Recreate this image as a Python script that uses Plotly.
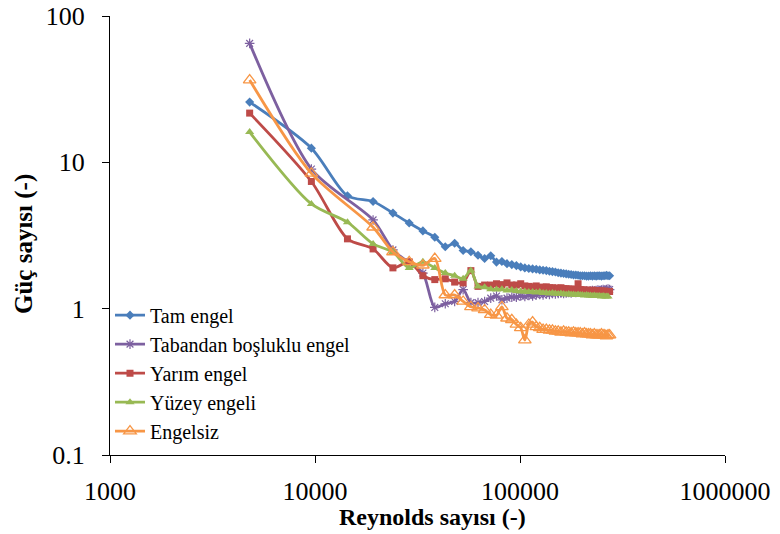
import plotly.graph_objects as go

RE = [4800, 9600, 14400, 19200, 24000, 28800, 33600, 38400, 43200, 48000,
      52800, 57600, 62400, 67200, 72000, 76800, 81600, 86400, 91200, 96000,
      100800, 105600, 110400, 115200, 120000, 124800, 129600, 134400, 139200, 144000,
      148800, 153600, 158400, 163200, 168000, 172800, 177600, 182400, 187200, 192000,
      196800, 201600, 206400, 211200, 216000, 220800, 225600, 230400, 235200, 240000,
      244800, 249600, 254400, 259200, 264000, 268800, 273600]

tam_engel = [25.8, 12.5, 5.9, 5.4, 4.5, 3.85, 3.4, 3.08, 2.65, 2.8,
             2.5, 2.45, 2.32, 2.2, 2.3, 2.08, 2.1, 2.03, 2.0, 1.97,
             1.93, 1.9, 1.88, 1.87, 1.86, 1.84, 1.83, 1.82, 1.8, 1.79,
             1.78, 1.76, 1.75, 1.74, 1.73, 1.72, 1.71, 1.7, 1.7, 1.69,
             1.68, 1.68, 1.68, 1.67, 1.67, 1.68, 1.67, 1.68, 1.67, 1.68,
             1.68, 1.67, 1.68, 1.68, 1.69, 1.68, 1.68]

tabandan = [65, 9.0, None, 4.04, 2.52, 2.06, 1.75, 1.02, 1.08, 1.12,
            1.35, 1.1, 1.1, 1.12, 1.18, 1.22, 1.15, 1.18, 1.2, 1.2,
            1.22, 1.21, 1.23, 1.22, 1.24, 1.25, 1.24, 1.26, 1.25, 1.27,
            1.26, 1.27, 1.28, 1.27, 1.28, 1.29, 1.28, 1.3, 1.29, 1.3,
            1.31, 1.3, 1.31, 1.32, 1.31, 1.32, 1.33, 1.32, 1.33, 1.34,
            1.33, 1.34, 1.35, 1.34, 1.35, 1.36, 1.35]

yarim_engel = [21.7, 7.4, 3.0, 2.56, 1.9, 2.09, 1.68, 1.58, 1.6, 1.52,
               1.5, 1.82, 1.42, 1.45, 1.45, 1.48, 1.46, 1.5, 1.45, 1.45,
               1.48, 1.43, 1.42, 1.41, 1.43, 1.4, 1.4, 1.41, 1.39, 1.39,
               1.38, 1.38, 1.39, 1.37, 1.37, 1.36, 1.36, 1.36, 1.35, 1.48,
               1.35, 1.34, 1.34, 1.34, 1.33, 1.33, 1.34, 1.32, 1.33, 1.32,
               1.32, 1.32, 1.31, 1.32, 1.31, 1.31, 1.31]

yuzey_engeli = [16.1, 5.2, 3.9, 2.77, 2.44, 1.9, 2.09, 1.9, 1.75, 1.68,
                1.6, 1.82, 1.42, 1.4, 1.36, 1.35, 1.36, 1.33, 1.34, 1.32,
                1.31, 1.31, 1.3, 1.3, 1.29, 1.3, 1.28, 1.28, 1.27, 1.28,
                1.27, 1.26, 1.27, 1.26, 1.25, 1.26, 1.25, 1.25, 1.24, 1.25,
                1.24, 1.24, 1.23, 1.24, 1.23, 1.23, 1.22, 1.23, 1.22, 1.22,
                1.22, 1.21, 1.22, 1.21, 1.21, 1.21, None]

engelsiz = [36.5, 8.4, None, 3.6, 2.44, 2.09, 1.98, 2.2, 1.24, 1.24,
            1.12, 1.03, 1.01, 0.98, 0.91, 0.9, 1.03, 0.86, 0.84, 0.78,
            0.74, 0.61, 0.78, 0.81, 0.75, 0.74, 0.72, 0.72, 0.71, 0.71,
            0.7, 0.7, 0.69, 0.7, 0.69, 0.69, 0.68, 0.69, 0.68, 0.68,
            0.68, 0.67, 0.68, 0.67, 0.67, 0.67, 0.66, 0.67, 0.66, 0.66,
            0.66, 0.67, 0.66, 0.66, 0.65, 0.66, 0.66]

series = [
    ("Tam engel", tam_engel, "#4A7EBB", dict(symbol="diamond", size=7)),
    ("Tabandan boşluklu engel", tabandan, "#7D60A0", dict(symbol="asterisk-open", size=8, line=dict(width=1.2, color="#7D60A0"))),
    ("Yarım engel", yarim_engel, "#BE4B48", dict(symbol="square", size=7)),
    ("Yüzey engeli", yuzey_engeli, "#98B954", dict(symbol="triangle-up", size=8)),
    ("Engelsiz", engelsiz, "#F79646", dict(symbol="triangle-up-open", size=11, line=dict(width=1.3, color="#F79646"))),
]

FONT = "Liberation Serif, Times New Roman, serif"

fig = go.Figure()
for i, (name, ys, color, mk) in enumerate(series):
    fig.add_trace(go.Scatter(
        x=RE, y=ys, name=name, mode="lines+markers",
        connectgaps=True,
        line=dict(color=color, width=2.8, shape="spline", smoothing=0.8),
        marker=dict(color=color, **mk),
        legendgroup=f"g{i}",
    ))

fig.update_layout(
    width=780, height=534,
    margin=dict(l=110, r=55, t=16, b=79),
    paper_bgcolor="white", plot_bgcolor="white",
    font=dict(family=FONT, size=24, color="black"),
    showlegend=True,
    legend=dict(x=0.0, y=0.363, xanchor="left", yanchor="top",
                font=dict(family=FONT, size=20, color="black"),
                bgcolor="rgba(0,0,0,0)", tracegroupgap=0,
                itemwidth=30),
    xaxis=dict(type="log", range=[3, 6], showgrid=False, zeroline=False,
               showline=True, linecolor="black", linewidth=1,
               ticks="outside", ticklen=7, tickcolor="black",
               tickvals=[1000, 10000, 100000, 1000000],
               ticktext=["1000", "10000", "100000", "1000000"],
               tickfont=dict(family=FONT, size=26), automargin=False,
               ticklabelstandoff=6),
    yaxis=dict(type="log", range=[-1, 2], showgrid=False, zeroline=False,
               showline=True, linecolor="black", linewidth=1,
               ticks="outside", ticklen=7, tickcolor="black",
               tickvals=[0.1, 1, 10, 100],
               ticktext=["0.1", "1", "10", "100"],
               tickfont=dict(family=FONT, size=26), automargin=False,
               ticklabelstandoff=12),
    annotations=[
        dict(text="<b>Reynolds sayısı (-)</b>", xref="paper", yref="paper",
             x=0.525, y=-0.1412, xanchor="center", yanchor="middle",
             showarrow=False, font=dict(family=FONT, size=24)),
        dict(text="<b>Güç sayısı (-)</b>", xref="paper", yref="paper",
             x=-0.1398, y=0.4806, xanchor="center", yanchor="middle",
             textangle=-90, showarrow=False, font=dict(family=FONT, size=25)),
    ],
)

fig.write_html("out.html")
